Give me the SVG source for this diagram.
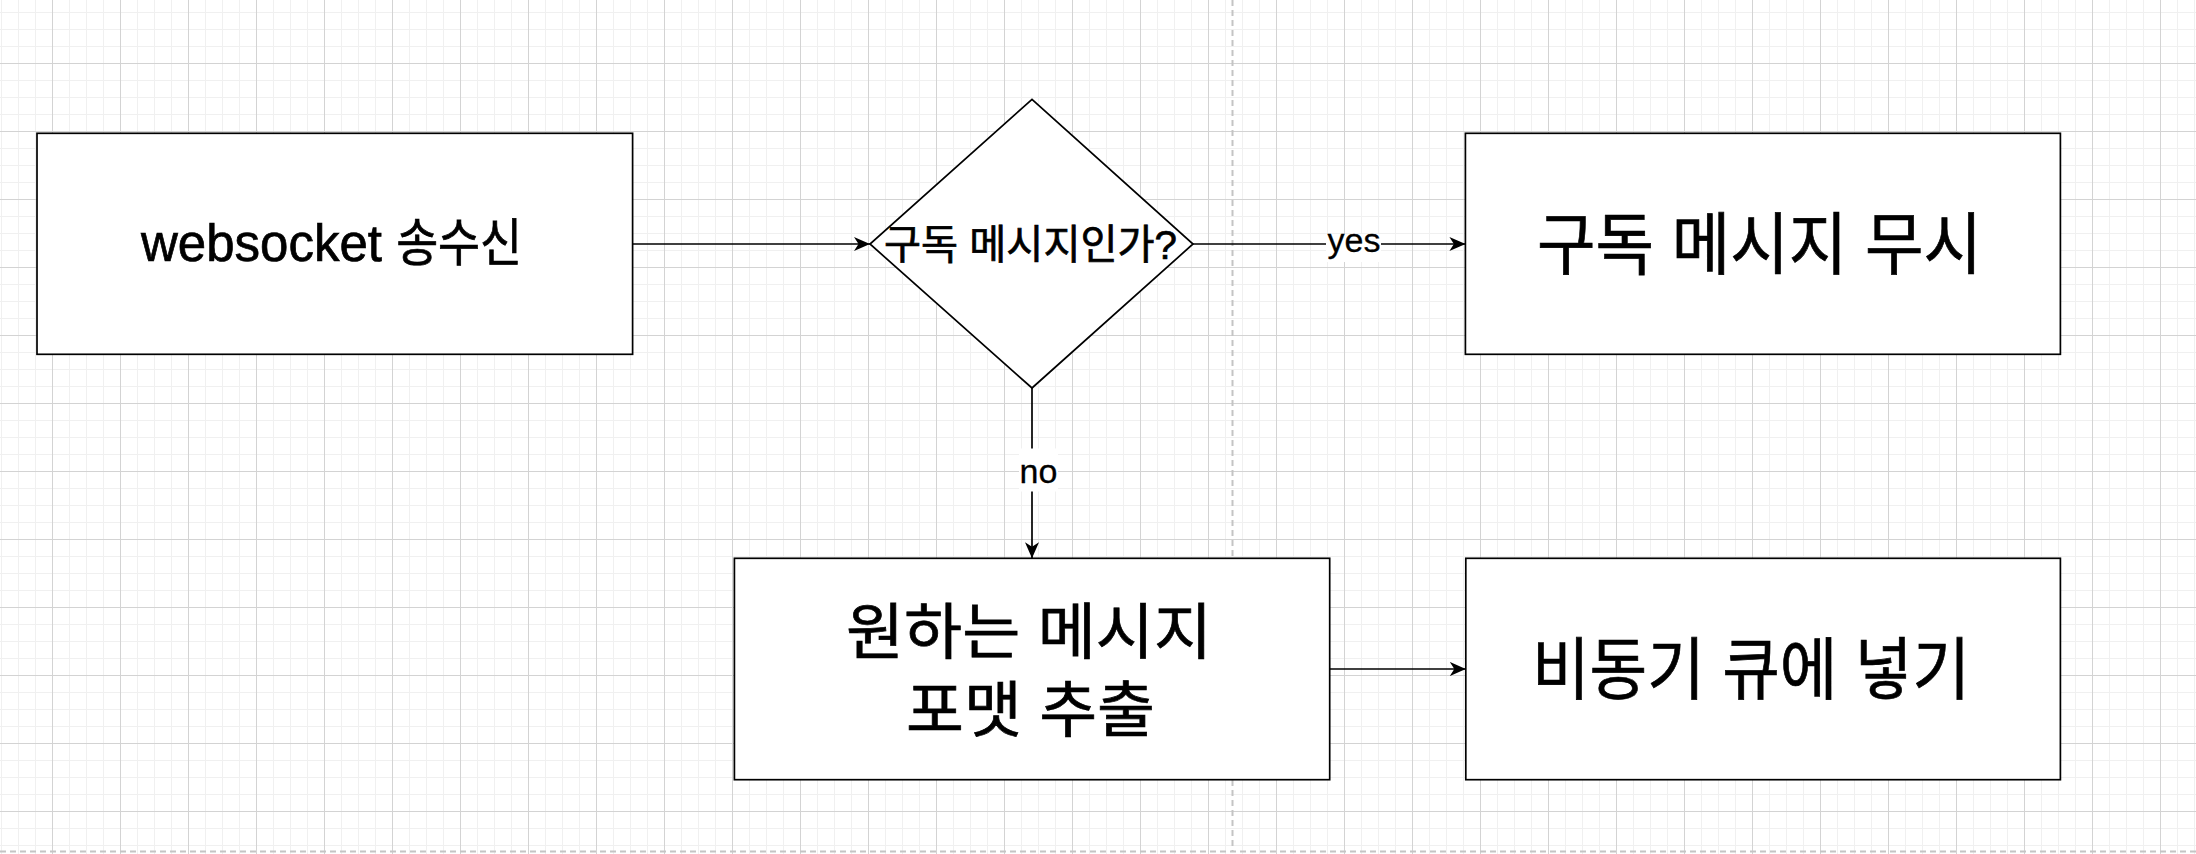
<svg xmlns="http://www.w3.org/2000/svg" width="2196" height="854" viewBox="0 0 2196 854">
<style>
  .box { fill: #ffffff; stroke: #000000; stroke-width: 1.7; }
  .edge { fill: none; stroke: #000000; stroke-width: 1.7; }
  .lbl { font-family: "Liberation Sans", "Noto Sans CJK KR", sans-serif; fill: #000000; stroke: #000000; stroke-width: 0.7; }
  .elbl { font-family: "Liberation Sans", "Noto Sans CJK KR", sans-serif; fill: #000000; stroke: #000000; stroke-width: 0.3; font-size: 34px; text-anchor: middle; }
  .page { fill: none; stroke: #c4c4c4; stroke-width: 2; stroke-dasharray: 6 4; }
</style>
<defs>
  <pattern id="grid" patternUnits="userSpaceOnUse" x="52" y="63" width="68" height="68">
    <rect width="68" height="68" fill="#ffffff"/>
    <rect x="17" y="0" width="1" height="68" fill="#f0f0f0"/>
    <rect x="34" y="0" width="1" height="68" fill="#f0f0f0"/>
    <rect x="51" y="0" width="1" height="68" fill="#f0f0f0"/>
    <rect x="0" y="17" width="68" height="1" fill="#f0f0f0"/>
    <rect x="0" y="34" width="68" height="1" fill="#f0f0f0"/>
    <rect x="0" y="51" width="68" height="1" fill="#f0f0f0"/>
    <rect x="0" y="0" width="1" height="68" fill="#d3d3d3"/>
    <rect x="0" y="0" width="68" height="1" fill="#d3d3d3"/>
  </pattern>
  <marker id="arrow" markerUnits="userSpaceOnUse" viewBox="0 0 16 14" refX="16" refY="7" markerWidth="16" markerHeight="14" orient="auto">
    <path d="M0,0 L16,7 L0,14 L4.5,7 Z" fill="#000000"/>
  </marker>
</defs>

<rect x="0" y="0" width="2196" height="854" fill="url(#grid)"/>
<line class="page" x1="1232.5" y1="0" x2="1232.5" y2="851.5"/>
<line class="page" x1="0" y1="851.5" x2="2196" y2="851.5"/>

<g id="connectors">
  <line class="edge" x1="632.6" y1="244" x2="870" y2="244" marker-end="url(#arrow)"/>
  <line class="edge" x1="1193" y1="244" x2="1465.4" y2="244" marker-end="url(#arrow)"/>
  <line class="edge" x1="1032" y1="388" x2="1032" y2="558.3" marker-end="url(#arrow)"/>
  <line class="edge" x1="1329.7" y1="669" x2="1465.8" y2="669" marker-end="url(#arrow)"/>
  <g id="label-yes">
    <rect x="1326" y="234" width="55" height="28" fill="#ffffff"/>
    <text class="elbl" x="1354" y="252.3">yes</text>
  </g>
  <g id="label-no">
    <rect x="1019" y="448.5" width="39" height="43" fill="#ffffff"/>
    <text class="elbl" x="1038.5" y="482.5">no</text>
  </g>
</g>

<g id="node-websocket">
  <rect class="box" x="37" y="133.3" width="595.6" height="221"/>
  <text class="lbl" x="141" y="261" font-size="51">websocket <tspan textLength="126" lengthAdjust="spacingAndGlyphs">송수신</tspan></text>
</g>

<g id="node-decision">
  <polygon class="box" points="1032,99.4 1193,244 1032,388 870,244"/>
  <text class="lbl" x="884" y="259" font-size="40.8" textLength="293" lengthAdjust="spacingAndGlyphs">구독 메시지인가?</text>
</g>

<g id="node-ignore">
  <rect class="box" x="1465.4" y="133.3" width="595" height="221"/>
  <text class="lbl" x="1537" y="268.5" font-size="68" textLength="445" lengthAdjust="spacingAndGlyphs">구독 메시지 무시</text>
</g>

<g id="node-extract">
  <rect class="box" x="734.4" y="558.3" width="595.3" height="221.4"/>
  <text class="lbl" font-size="61.2">
    <tspan x="846" y="653.8" textLength="366" lengthAdjust="spacingAndGlyphs">원하는 메시지</tspan>
    <tspan x="906" y="731.6" textLength="249" lengthAdjust="spacingAndGlyphs">포맷 추출</tspan>
  </text>
</g>

<g id="node-queue">
  <rect class="box" x="1465.8" y="558.3" width="594.6" height="221.4"/>
  <text class="lbl" x="1532" y="693.6" font-size="68" textLength="438" lengthAdjust="spacingAndGlyphs">비동기 큐에 넣기</text>
</g>
</svg>
